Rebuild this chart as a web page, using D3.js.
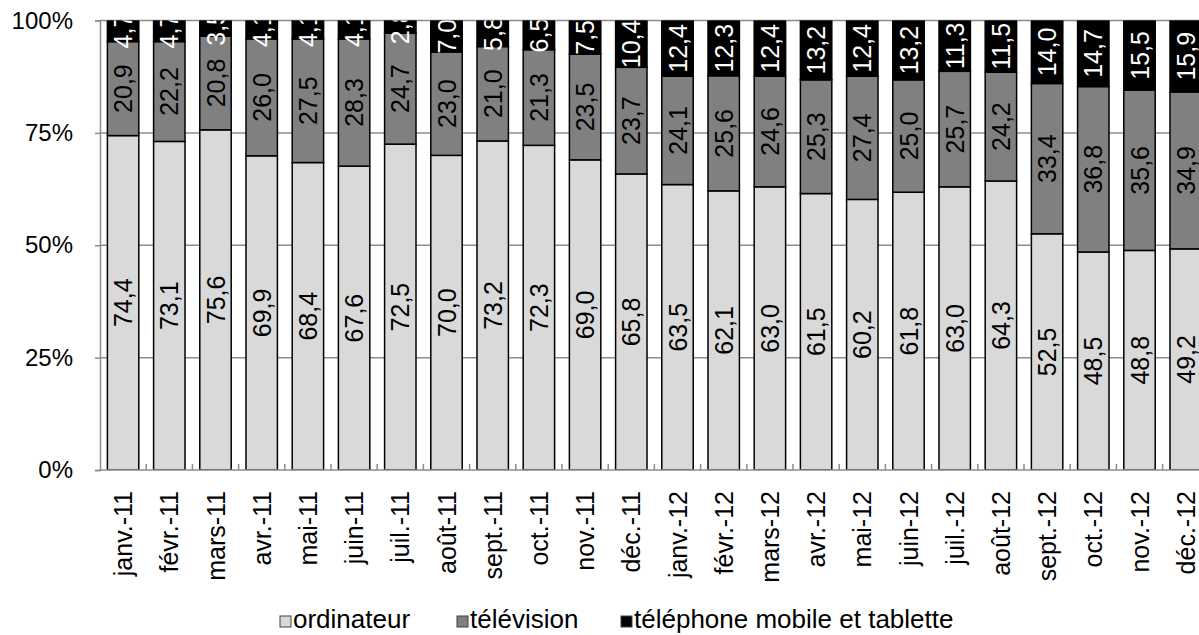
<!DOCTYPE html>
<html>
<head>
<meta charset="utf-8">
<script src="https://cdn.jsdelivr.net/npm/d3@7"></script>
<style>
	body { margin: 0; background: #fff; }
	svg { font-family: "Liberation Sans", Arial, sans-serif; }
</style>
</head>
<body>
<svg id="chart"></svg>
<script>
var months = ["janv.-11", "févr.-11", "mars-11", "avr.-11", "mai-11", "juin-11", "juil.-11", "août-11",
	"sept.-11", "oct.-11", "nov.-11", "déc.-11", "janv.-12", "févr.-12", "mars-12", "avr.-12",
	"mai-12", "juin-12", "juil.-12", "août-12", "sept.-12", "oct.-12", "nov.-12", "déc.-12"];
var ordinateur = [74.4, 73.1, 75.6, 69.9, 68.4, 67.6, 72.5, 70.0, 73.2, 72.3, 69.0, 65.8,
	63.5, 62.1, 63.0, 61.5, 60.2, 61.8, 63.0, 64.3, 52.5, 48.5, 48.8, 49.2];
var television = [20.9, 22.2, 20.8, 26.0, 27.5, 28.3, 24.7, 23.0, 21.0, 21.3, 23.5, 23.7,
	24.1, 25.6, 24.6, 25.3, 27.4, 25.0, 25.7, 24.2, 33.4, 36.8, 35.6, 34.9];
var mobile = [4.7, 4.7, 3.5, 4.1, 4.1, 4.1, 2.8, 7.0, 5.8, 6.5, 7.5, 10.4,
	12.4, 12.3, 12.4, 13.2, 12.4, 13.2, 11.3, 11.5, 14.0, 14.7, 15.5, 15.9];
var seriesNames = ["ordinateur", "télévision", "téléphone mobile et tablette"];
var yTicks = [0, 0.25, 0.5, 0.75, 1];

var colors = ["#d9d9d9", "#808080", "#000000"],
	labelColors = ["#000", "#000", "#fff"];

var W = 1199, H = 635,
	margin = {top: 20.5, left: 100, bottom: 165},
	plotW = 24 * 46.2,
	plotH = H - margin.top - margin.bottom;

var svg = d3.select("#chart").attr("width", W).attr("height", H);

// build rows, normalised to 100%
var rows = months.map(function(m, i) {
	var vals = [ordinateur[i], television[i], mobile[i]],
		tot = d3.sum(vals), acc = 0;
	return vals.map(function(v, k) {
		var seg = {month: m, k: k, value: v, y0: acc / tot, y1: (acc + v) / tot};
		acc += v;
		return seg;
	});
});

var x = d3.scaleBand().domain(months).range([margin.left, margin.left + plotW])
		.paddingInner(0.32).paddingOuter(0.16),
	y = d3.scaleLinear().domain([0, 1]).range([margin.top + plotH, margin.top]);

svg.append("defs").append("clipPath").attr("id", "plot-clip")
	.append("rect")
	.attr("x", margin.left).attr("y", margin.top)
	.attr("width", plotW).attr("height", plotH);

// gridlines
svg.append("g").selectAll("line")
	.data(yTicks.filter(function(t) { return t > 0; }))
	.enter().append("line")
	.attr("x1", margin.left).attr("x2", margin.left + plotW)
	.attr("y1", function(d) { return y(d); }).attr("y2", function(d) { return y(d); })
	.attr("stroke", "#8c8c8c").attr("stroke-width", 1.5);

// y axis
var yAxis = svg.append("g")
	.attr("transform", "translate(" + margin.left + ",0)")
	.call(d3.axisLeft(y).tickValues(yTicks).tickFormat(d3.format(".0%")).tickSize(5).tickPadding(22));
yAxis.select(".domain").attr("stroke", "#8c8c8c").attr("stroke-width", 1.5);
yAxis.selectAll(".tick line").attr("stroke", "#8c8c8c").attr("stroke-width", 1.5);
yAxis.selectAll("text").attr("font-size", 24).attr("fill", "#000")
	.style("font-family", "Liberation Sans, Arial, sans-serif");

// bars
var plot = svg.append("g").attr("clip-path", "url(#plot-clip)");
var segs = [].concat.apply([], rows);

plot.selectAll(".bar")
	.data(segs)
	.enter().append("rect")
	.attr("class", "bar")
	.attr("x", function(d) { return x(d.month); })
	.attr("width", x.bandwidth())
	.attr("y", function(d) { return y(d.y1); })
	.attr("height", function(d) { return y(d.y0) - y(d.y1); })
	.attr("fill", function(d) { return colors[d.k]; })
	.attr("stroke", "#000").attr("stroke-width", 1.5);

// data labels
var fmt = function(v) { return d3.format(".1f")(v).replace(".", ","); };
plot.selectAll(".lbl")
	.data(segs)
	.enter().append("text")
	.attr("class", "lbl")
	.attr("transform", function(d) {
		return "translate(" + (x(d.month) + x.bandwidth() / 2) + "," + y((d.y0 + d.y1) / 2) + ") rotate(-90)";
	})
	.attr("text-anchor", "middle")
	.attr("dy", "0.36em")
	.attr("font-size", 25)
	.attr("fill", function(d) { return labelColors[d.k]; })
	.text(function(d) { return fmt(d.value); });

// x axis
var xAxis = svg.append("g")
	.attr("transform", "translate(0," + (margin.top + plotH) + ")")
	.call(d3.axisBottom(x).tickSize(0).tickPadding(0));
xAxis.select(".domain").remove();
xAxis.append("line")
	.attr("x1", margin.left).attr("x2", margin.left + plotW)
	.attr("stroke", "#8c8c8c").attr("stroke-width", 1.5);
xAxis.selectAll(".tick text")
	.attr("transform", "rotate(-90)")
	.attr("text-anchor", "end")
	.attr("x", -21).attr("y", 0).attr("dy", "0.36em")
	.attr("font-size", 25).attr("fill", "#000")
	.style("font-family", "Liberation Sans, Arial, sans-serif");

// little ticks between categories
xAxis.selectAll(".sep")
	.data(d3.range(1, months.length + 1))
	.enter().append("line")
	.attr("class", "sep")
	.attr("x1", function(i) { return margin.left + i * x.step(); })
	.attr("x2", function(i) { return margin.left + i * x.step(); })
	.attr("y1", 0).attr("y2", -6)
	.attr("stroke", "#8c8c8c").attr("stroke-width", 1.5);

// legend
var legend = svg.append("g").attr("transform", "translate(0,628)");
var lx = [280, 457, 621];
var item = legend.selectAll(".leg")
	.data(seriesNames)
	.enter().append("g")
	.attr("class", "leg")
	.attr("transform", function(d, i) { return "translate(" + lx[i] + ",0)"; });
item.append("rect")
	.attr("x", 0).attr("y", -12).attr("width", 11).attr("height", 11)
	.attr("fill", function(d, i) { return colors[i]; })
	.attr("stroke", "#404040").attr("stroke-width", 1);
item.append("text")
	.attr("x", 13).attr("y", 0)
	.attr("font-size", 26)
	.text(function(d) { return d; });
</script>
</body>
</html>
